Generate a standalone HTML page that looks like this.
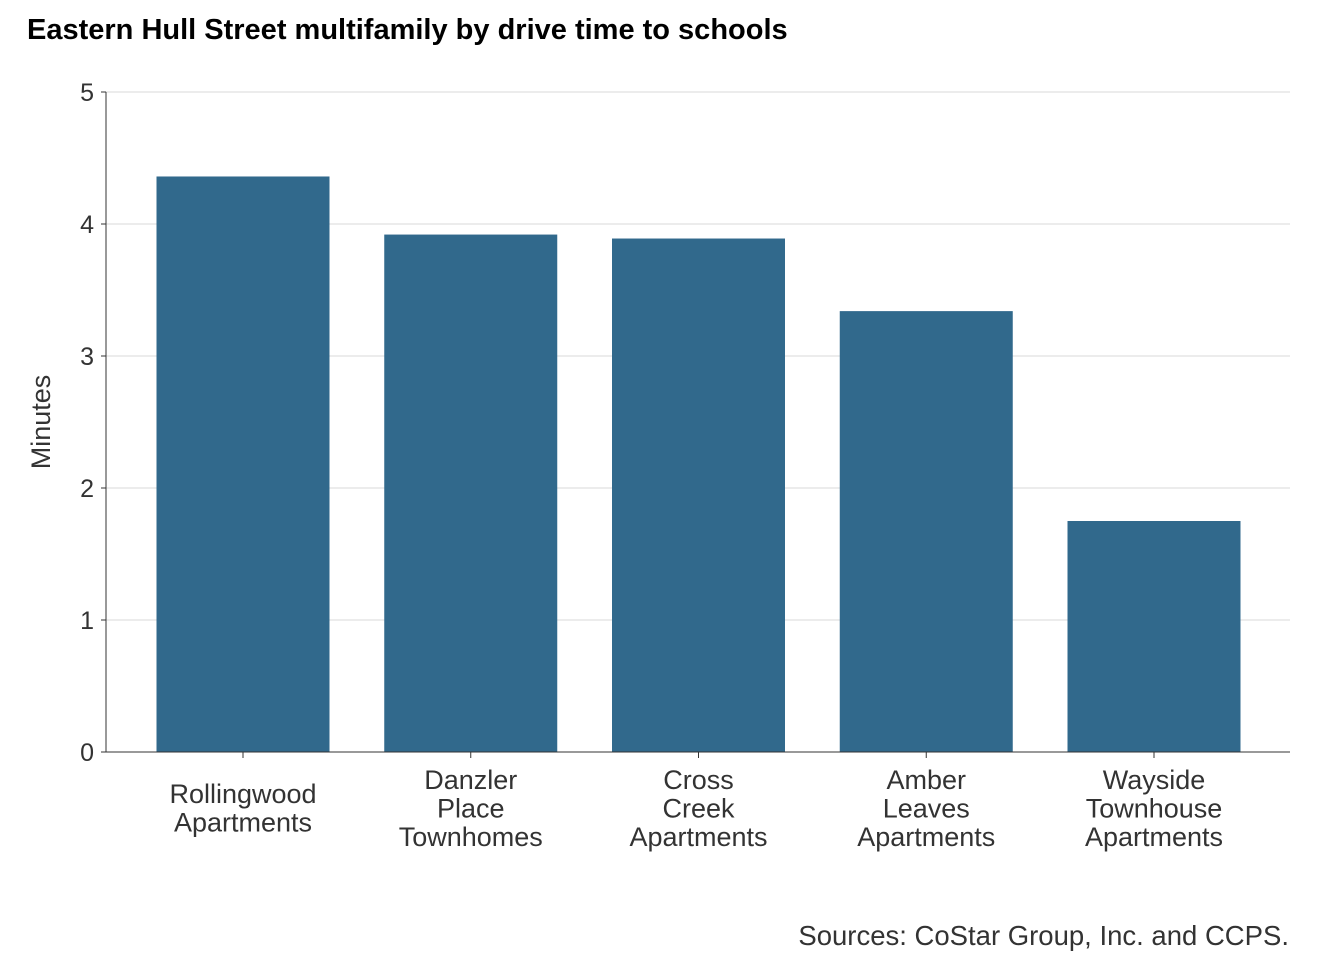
<!DOCTYPE html>
<html><head><meta charset="utf-8">
<style>
html,body{margin:0;padding:0;background:#fff;}
svg{display:block;font-family:"Liberation Sans",Arial,sans-serif;}
</style></head>
<body>
<svg id="chart" width="1344" height="960">
<text x="27" y="39" font-size="29" font-weight="bold" fill="#000">Eastern Hull Street multifamily by drive time to schools</text>
<g id="grid"></g>
<g id="bars"></g>
<g id="axes"></g>
<text transform="translate(50,422) rotate(-90)" text-anchor="middle" font-size="27" fill="#333">Minutes</text>
<text x="1289" y="945" text-anchor="end" font-size="27.5" fill="#333">Sources: CoStar Group, Inc. and CCPS.</text>
</svg>
<script>
const categories = [["Rollingwood","Apartments"],["Danzler","Place","Townhomes"],["Cross","Creek","Apartments"],["Amber","Leaves","Apartments"],["Wayside","Townhouse","Apartments"]];
const values = [4.36, 3.92, 3.89, 3.34, 1.75];
const yTicks = [0,1,2,3,4,5];

const NS="http://www.w3.org/2000/svg";
const x0=106,x1=1290,yBase=752,yTop=92,yMax=5;
const y=v=>yBase-(v/yMax)*(yBase-yTop);
const step=227.75, firstC=243, bw=173;
const xc=i=>firstC+i*step;
function mk(tag,attrs,parent){const e=document.createElementNS(NS,tag);for(const k in attrs)e.setAttribute(k,attrs[k]);parent.appendChild(e);return e;}
const grid=document.getElementById('grid'),bars=document.getElementById('bars'),axes=document.getElementById('axes');
yTicks.forEach(t=>{
  if(t>0){const g=mk('line',{x1:x0,x2:x1,y1:y(t),y2:y(t),stroke:'#d9d9d9','stroke-width':1},grid);
  
  }
  const tk=mk('line',{x1:x0-5,x2:x0,y1:y(t),y2:y(t),stroke:'#333','stroke-width':1},axes);
  
  
  const tl=mk('text',{x:x0-12,y:y(t)+9,'text-anchor':'end','font-size':25,fill:'#333'},axes);
  tl.textContent=t;
  
  
});
values.forEach((v,i)=>{
  const r=mk('rect',{x:xc(i)-bw/2,y:y(v),width:bw,height:yBase-y(v),fill:'#31698c'},bars);
  
  
  const tk=mk('line',{x1:xc(i),x2:xc(i),y1:yBase,y2:yBase+6,stroke:'#333'},axes);
  
  
  const lines=categories[i];
  const startY = lines.length===2 ? 803 : 789;
  lines.forEach((ln,j)=>{
    const t=mk('text',{x:xc(i),y:startY+j*28.5,'text-anchor':'middle','font-size':27,fill:'#333'},axes);
    t.textContent=ln;
    
    
  });
});
const ya=mk('line',{x1:x0,x2:x0,y1:yTop,y2:yBase,stroke:'#333'},axes);


const xa=mk('line',{x1:x0,x2:x1,y1:yBase,y2:yBase,stroke:'#333'},axes);


</script>
</body></html>
